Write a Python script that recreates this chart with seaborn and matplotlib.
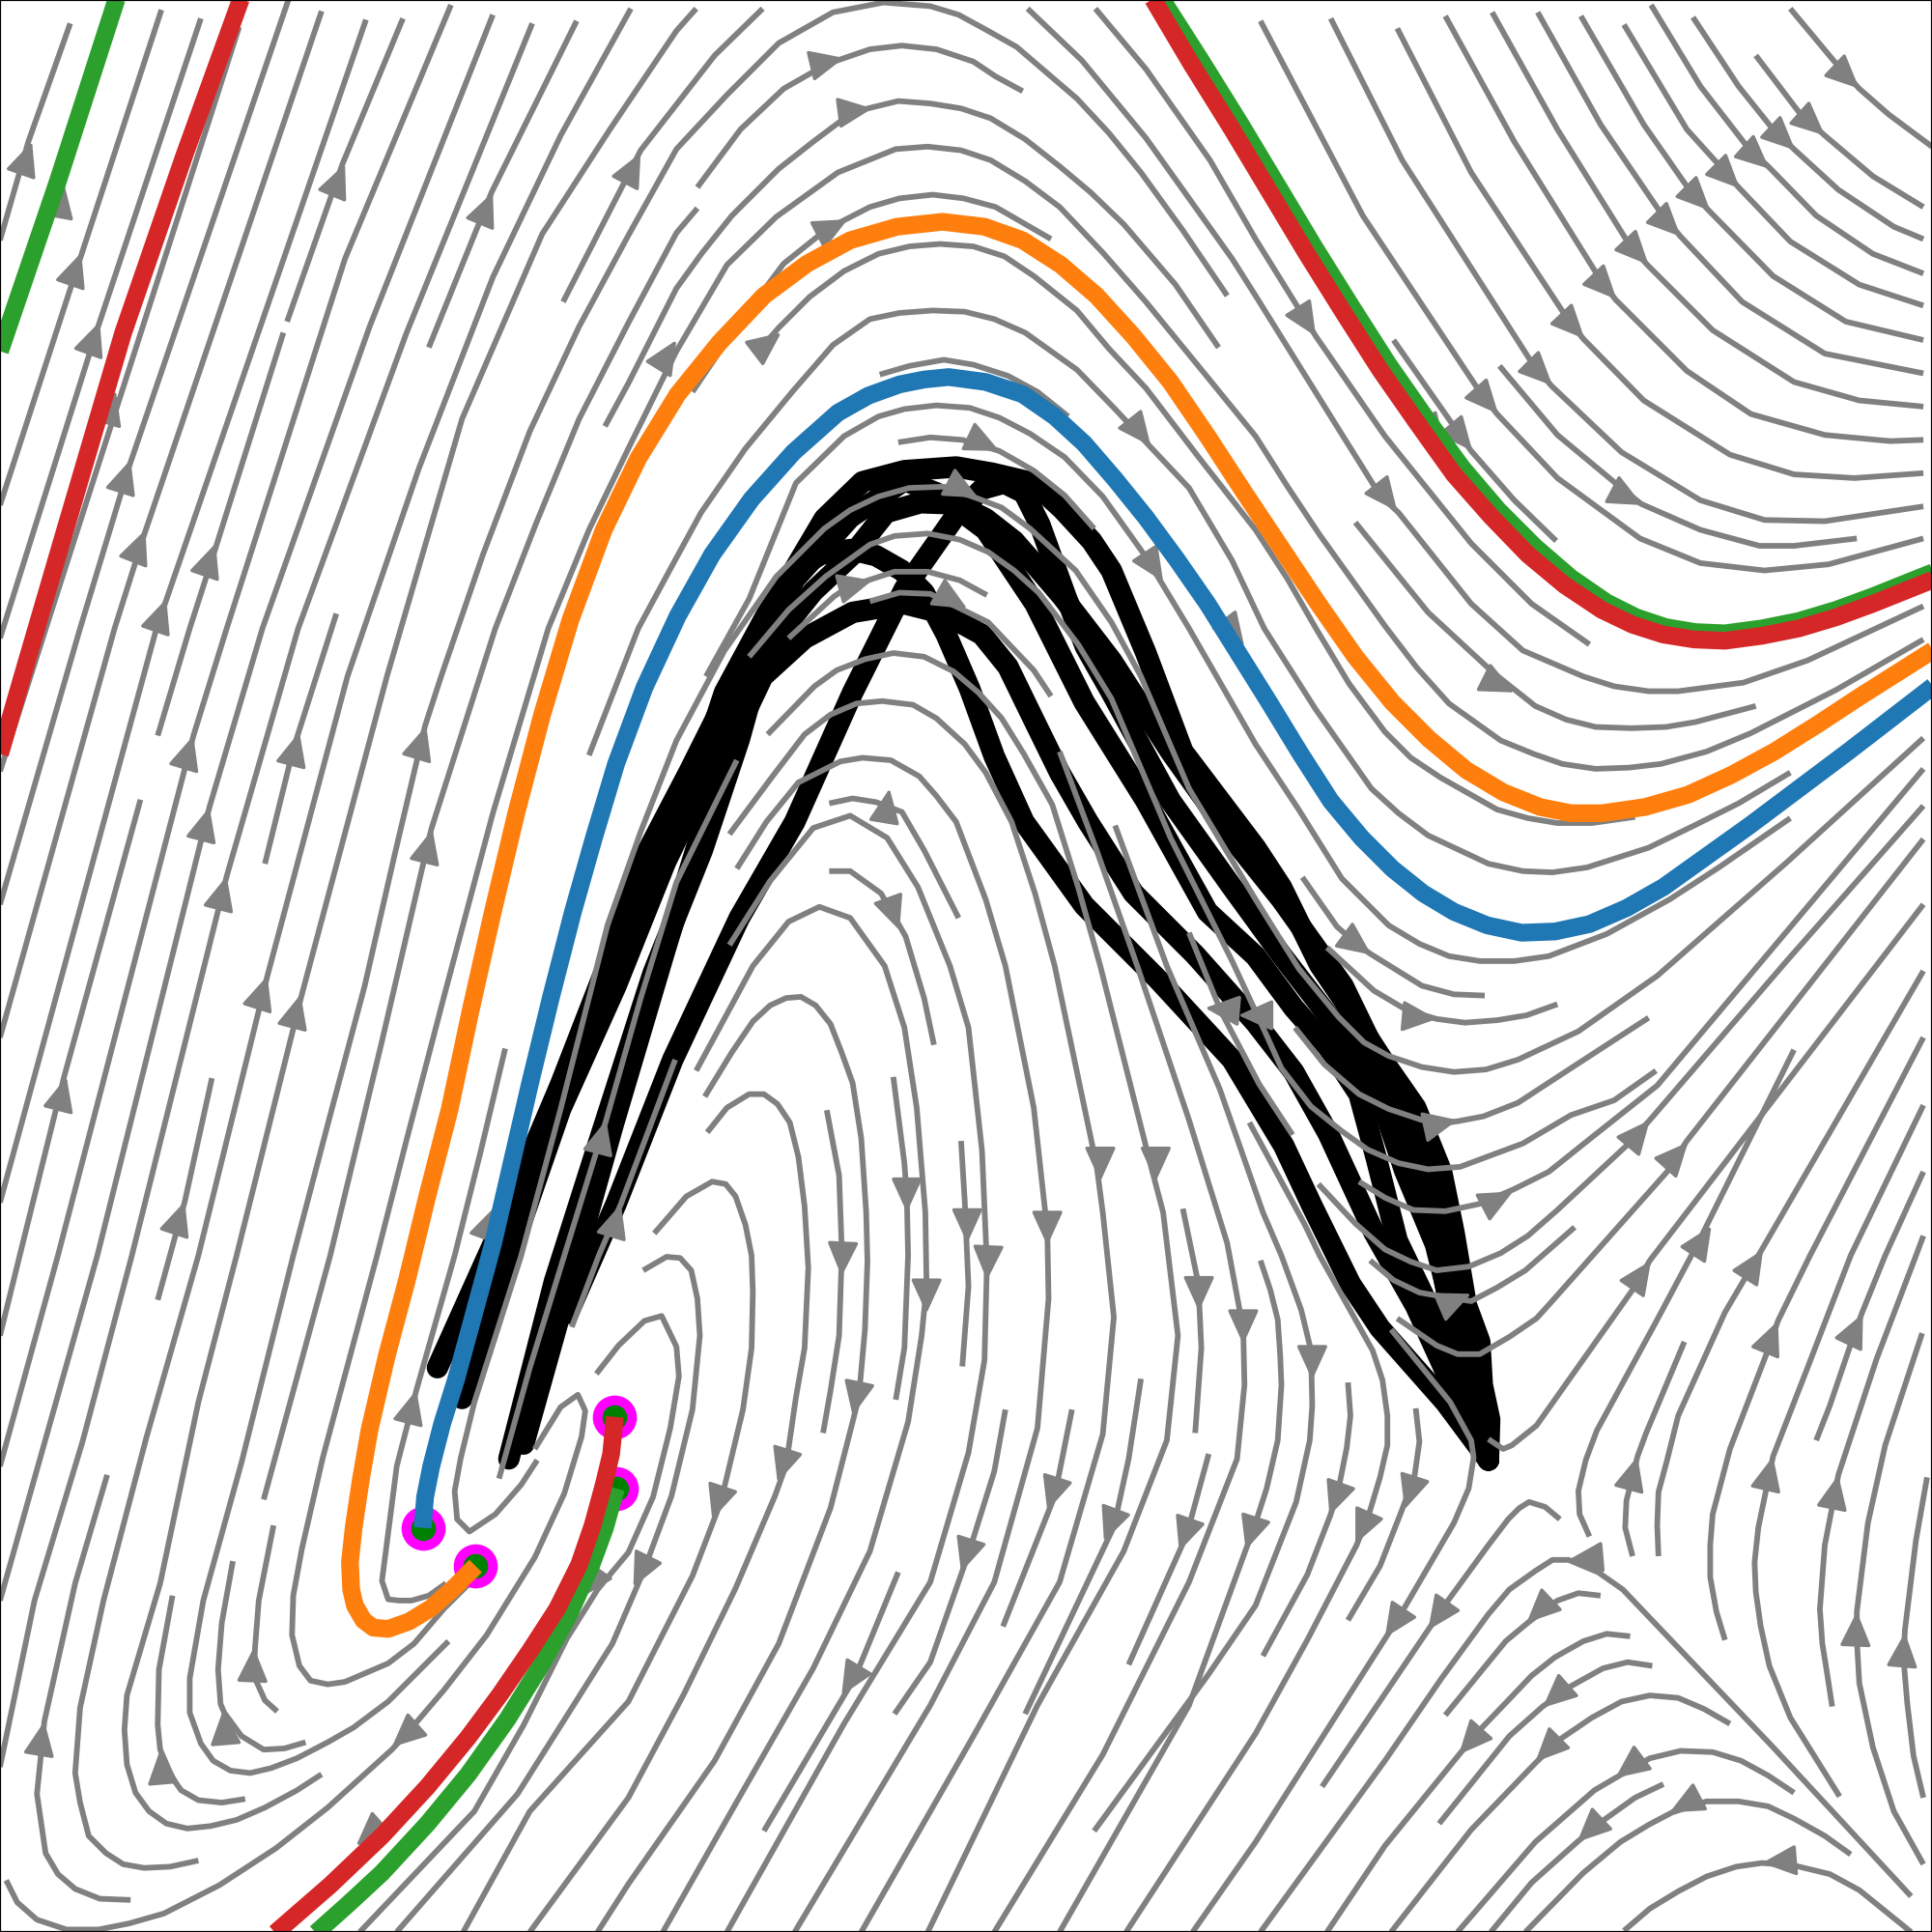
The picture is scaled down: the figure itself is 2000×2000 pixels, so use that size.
import pandas as pd
import seaborn as sns
import matplotlib.pyplot as plt

# everything, x to the right, y downwards, 0-1568

# streamlines, left side
streams_left = [
    [(57,19),(23,115),(0,195)],
    [(131,8),(65,210),(0,410)],
    [(163,15),(78,270),(0,518)],
    [(194,22),(95,330),(0,626)],
    [(234,0),(105,378),(65,510),(0,734)],
    [(261,9),(117,434),(93,510),(0,842)],
    [(297,16),(127,510),(0,976)],
    [(327,15),(278,133),(233,261)],
    [(230,270),(173,451),(154,510),(128,597)],
    [(114,649),(52,874),(16,1019),(0,1084)],
    [(366,4),(280,210),(184,510),(157,597),(47,1019),(0,1190)],
    [(400,12),(300,265),(213,510),(170,655),(79,1019),(0,1299)],
    [(432,19),(330,270),(242,510),(184,711),(107,1019),(67,1170),(28,1299),(0,1434)],
    [(468,17),(399,156),(348,282)],
    [(273,498),(238,608),(215,701)],
    [(512,7),(455,110),(400,225),(340,380),(282,549),(217,792),(161,1019),(119,1166),(84,1299),(65,1386),(61,1439),(65,1463),(72,1490),(86,1504),(100,1513),(117,1516),(138,1515),(161,1510)],
    [(565,7),(549,25),(495,105),(440,190),(375,340),(314,549),(245,807),(192,1019),(161,1138),(130,1285),(103,1376),(101,1404),(103,1432),(110,1455),(121,1470),(135,1480),(152,1484),(171,1482),(192,1477),(215,1467),(241,1453),(261,1440)],
    [(619,7),(580,45),(520,122),(457,245)],
    [(996,240),(960,187),(926,140),(900,108),(874,80),(825,38),(800,24),(778,12),(755,5),(717,2),(676,10),(632,35),(590,77),(549,121),(510,191),(470,265),(430,350),(392,450),(358,549),(345,589),(320,695),(296,800),(268,905),(238,1019),(196,1187),(165,1299),(154,1362),(154,1390),(163,1415),(173,1429),(187,1437),(203,1439),(220,1435),(241,1427),(266,1414),(287,1402),(315,1381),(364,1332)],
    [(566,169),(549,189),(510,262),(470,340),(435,425),(402,510),(350,673),(310,845),(268,1019),(214,1217)],
    [(989,282),(954,231),(912,182),(885,156),(860,135),(832,113),(804,96),(780,88),(755,84),(729,82),(692,91),(660,115),(632,137),(594,175),(570,205),(549,234),(510,311),(491,346)],
    [(566,152),(601,105),(636,72),(671,52),(706,40),(732,37),(760,40),(790,50),(808,62),(830,74)],
    [(853,194),(808,168),(782,161),(757,158),(730,161),(706,168),(671,186),(636,214),(597,266),(562,318)],
    [(618,282),(632,266),(657,241),(685,220),(713,206),(738,200),(763,198),(790,200),(815,208),(839,224),(874,252),(900,283),(930,315),(972,370),(1019,430),(1045,470),(1068,510),(1095,555),(1124,594),(1145,615),(1169,631),(1215,657),(1240,664),(1264,668),(1292,668),(1327,663)],
    [(385,1281),(360,1306),(336,1334),(315,1350),(280,1365),(266,1367),(252,1364),(243,1352),(237,1327),(238,1295),(245,1257),(262,1183),(306,1019),(330,925),(360,810),(400,660),(445,510),(478,430),(510,364),(549,285),(590,215),(630,176),(680,140),(727,121),(753,119),(780,122),(804,130),(832,147),(860,168),(895,205),(930,245),(975,300),(1019,354),(1045,395),(1071,434),(1124,508),(1150,542),(1176,571),(1218,601),(1245,612),(1268,620),(1295,624),(1322,623),(1348,620),(1385,610),(1421,595),(1490,560),(1561,519)],
    [(478,613),(518,510),(545,460),(569,416),(605,364),(643,318),(676,280),(706,259),(730,254),(757,252),(783,253),(807,259),(832,270),(874,300),(905,332),(933,362),(965,396),(1000,455),(1026,510),(1068,576),(1113,640),(1135,660),(1159,678),(1208,701),(1236,707),(1260,708),(1288,704),(1338,688),(1375,670),(1411,652),(1453,627)],
    [(410,851),(390,935),(369,1019),(338,1128),(322,1190),(313,1260),(310,1283),(315,1298),(324,1299),(334,1299),(348,1295),(362,1285)],
    [(172,875),(150,975),(128,1055)],
    [(140,1295),(129,1355),(128,1400),(130,1420),(140,1443),(147,1453),(161,1461),(180,1463),(199,1460)],
    [(189,1267),(180,1317),(177,1355),(179,1383),(182,1390),(196,1409),(214,1420),(231,1419),(248,1414)],
    [(222,1238),(210,1299),(207,1337),(206,1360),(215,1380),(225,1389)],
    [(87,1197),(61,1285),(36,1397),(30,1456),(37,1504),(47,1521),(61,1533),(81,1541),(106,1542)],
]

# streamlines, centre (spirals and arcs over the black runs)
streams_centre = [
    [(434,1176),(455,1142),(469,1132),(475,1145),(472,1166),(458,1212),(434,1264),(395,1327),(360,1372),(331,1406),(318,1420),(266,1467),(224,1500),(178,1530),(133,1553),(105,1561),(80,1566),(54,1566),(30,1558),(14,1544),(5,1526)],
    [(436,1185),(423,1205),(402,1229),(381,1243),(371,1233),(369,1210),(374,1183),(385,1138),(423,1019),(455,900),(493,751),(520,675),(549,601),(588,528),(630,468),(669,429),(690,414),(713,403),(738,396),(766,395),(792,404),(813,412),(836,429),(873,463),(902,505),(926,549),(965,640),(1019,730),(1054,786),(1086,825),(1107,846),(1127,857),(1154,866),(1180,870),(1206,868),(1232,860),(1281,837),(1345,792),(1450,700),(1561,599)],
    [(598,617),(549,716),(520,810),(492,909),(458,1019),(430,1110),(405,1200)],
    [(548,860),(504,977),(486,1019),(464,1077)],
    [(484,1115),(502,1092),(523,1072),(537,1068),(549,1093),(551,1117),(544,1159),(530,1215),(510,1260),(485,1290),(460,1330),(425,1400),(385,1470),(292,1568)],
    [(522,1031),(541,1020),(552,1021),(561,1031),(566,1054),(568,1084),(562,1144),(545,1214),(522,1276),(497,1334),(420,1456),(322,1568)],
    [(531,1001),(557,971),(578,959),(589,961),(597,971),(605,994),(610,1019),(611,1049),(610,1094),(603,1144),(585,1219),(562,1279),(510,1381),(430,1470),(376,1568)],
    [(574,919),(590,899),(608,888),(620,888),(631,896),(641,911),(648,939),(653,979),(656,1029),(653,1094),(646,1134),(638,1189),(629,1214),(597,1289),(555,1375),(510,1459),(430,1568)],
    [(572,890),(594,854),(611,829),(625,816),(638,810),(650,809),(662,816),(674,831),(683,854),(692,879),(699,924),(703,984),(704,1024),(702,1079),(697,1134),(692,1154),(674,1224),(632,1334),(580,1429),(510,1529),(485,1568)],
    [(565,869),(584,834),(611,784),(640,748),(665,736),(690,745),(718,784),(734,834),(744,899),(751,984),(752,1044),(748,1084),(737,1154),(706,1259),(660,1354),(597,1464),(538,1568)],
    [(671,901),(681,954),(683,1009),(683,1024),(681,1084),(674,1129),(668,1163)],
    [(725,874),(734,944),(736,972),(737,1019),(734,1094),(727,1136)],
    [(780,926),(783,975),(786,1044),(781,1109)],
    [(673,707),(690,707),(715,725),(735,760),(750,810),(758,848)],
    [(673,652),(692,648),(711,651),(732,659),(750,690),(778,745)],
    [(592,767),(625,715),(660,672),(690,662),(720,680),(745,720),(771,784),(786,834),(797,934),(801,1026),(799,1104),(786,1179),(755,1284),(685,1399),(590,1568)],
    [(598,705),(622,667),(648,635),(682,618),(700,615),(723,617),(746,630),(760,646),(776,667),(800,730),(816,784),(839,899),(850,999),(851,1054),(842,1159),(807,1284),(755,1384),(645,1568)],
    [(592,677),(627,630),(653,596),(674,580),(695,571),(716,569),(741,572),(760,583),(783,604),(800,627),(821,667),(840,725),(856,784),(890,946),(895,984),(904,1069),(895,1164),(860,1284),(790,1409),(699,1568)],
    [(623,596),(661,557),(679,544),(702,535),(725,530),(750,533),(774,545),(794,562),(813,583),(831,612),(854,653),(875,720),(893,784),(934,946),(944,984),(956,1084),(947,1169),(912,1259),(842,1384),(753,1568)],
    [(860,610),(890,690),(923,784),(965,909),(996,1009),(1009,1079),(1010,1124),(1004,1184),(965,1284),(895,1424),(807,1568)],
    [(1014,911),(1059,994),(1071,1019),(1114,1096),(1122,1120),(1126,1149),(1126,1173),(1120,1199),(1111,1229),(1101,1254),(1061,1331),(1019,1407),(914,1568)],
    [(1023,1023),(1031,1047),(1037,1071),(1039,1100),(1040,1124),(1037,1169),(1028,1208),(1019,1236),(965,1384),(860,1568)],
    [(960,981),(972,1039),(973,1051),(975,1094),(970,1163)],
    [(905,670),(947,784),(990,884),(1025,984),(1040,1019),(1056,1063),(1064,1096),(1065,1141),(1063,1169),(1052,1219),(1019,1303),(980,1360),(888,1486)],
    [(816,1144),(807,1194),(786,1261),(755,1349),(726,1391)],
    [(729,1276),(694,1361),(620,1486)],
    [(870,1144),(856,1214),(814,1320)],
    [(926,1119),(916,1184),(904,1239),(832,1391)],
    [(981,1180),(963,1246),(916,1351)],
    [(1094,1122),(1096,1149),(1093,1175),(1087,1205),(1080,1229),(1061,1278),(1025,1344)],
    [(1149,1143),(1152,1170),(1148,1198),(1138,1225),(1120,1271),(1094,1315)],
    [(1129,1079),(1177,1138),(1194,1169),(1196,1183),(1192,1208),(1180,1236),(1138,1308),(1126,1327),(1019,1495),(968,1568)],
    [(608,533),(640,495),(670,468),(706,442),(726,435),(753,433),(779,438),(802,448),(823,463),(843,481),(875,523),(902,567),(950,680),(1000,780),(1026,836),(1040,867),(1064,898),(1089,918),(1110,933),(1135,944),(1159,949),(1185,947),(1236,928),(1275,905),(1310,893),(1344,869)],
    [(640,518),(677,484),(689,476),(726,464),(753,464),(779,471),(801,483)],
    [(706,488),(730,481),(755,482),(802,505),(839,544),(853,565)],
    [(714,304),(738,297),(766,292),(790,296),(818,305),(842,318),(867,338)],
    [(729,359),(755,355),(781,357),(811,366),(839,382),(864,402),(888,429)],
    [(573,549),(608,486),(646,392),(685,354),(713,338),(734,332),(760,329),(787,331),(811,339),(836,352),(864,371),(895,403),(930,452),(965,510),(1019,604),(1054,657),(1089,713),(1127,751),(1152,766),(1176,776),(1201,780),(1229,780),(1257,776),(1304,758),(1355,730),(1395,704),(1453,664)],
    [(965,757),(991,821),(1022,880),(1049,921)],
]

# streamlines, top right
streams_top_right = [
    [(1453,7),(1488,49),(1509,72),(1533,93),(1568,119)],
    [(1425,45),(1460,91),(1481,110),(1520,143),(1561,168)],
    [(1374,14),(1411,70),(1439,105),(1457,122),(1492,154),(1537,184),(1561,194)],
    [(1340,4),(1380,70),(1418,119),(1436,136),(1474,175),(1520,206),(1561,222)],
    [(1318,20),(1369,105),(1397,136),(1411,152),(1453,196),(1509,231),(1561,248)],
    [(1283,13),(1334,101),(1371,154),(1387,171),(1439,224),(1498,261),(1561,276)],
    [(1248,10),(1299,101),(1348,173),(1364,192),(1414,245),(1481,287),(1561,303)],
    [(1211,10),(1264,105),(1322,198),(1337,215),(1390,268),(1456,310),(1509,325),(1561,330)],
    [(1173,13),(1229,115),(1297,224),(1311,243),(1369,301),(1421,336),(1481,353),(1534,358),(1561,357)],
    [(1134,23),(1194,140),(1271,257),(1285,275),(1334,325),(1404,369),(1456,385),(1505,388),(1561,384)],
    [(1080,15),(1138,130),(1243,294),(1259,313),(1316,367),(1380,406),(1432,422),(1481,423),(1561,411)],
    [(1023,17),(1106,175),(1201,318),(1215,336),(1264,388),(1331,437),(1380,457),(1432,463),(1484,458),(1561,437)],
    [(1131,276),(1180,346),(1194,366),(1229,406),(1263,439)],
    [(1217,297),(1264,353),(1317,397),(1332,409),(1380,430),(1428,443),(1456,443),(1507,437)],
    [(889,7),(930,56),(982,130),(1019,194),(1068,273),(1124,354),(1194,441),(1243,490),(1290,523)],
    [(834,7),(878,49),(930,112),(1000,210),(1019,240),(1085,346),(1120,402),(1135,416),(1194,490),(1236,528),(1285,549),(1310,557),(1338,561),(1362,561),(1415,554),(1467,536),(1561,492)],
    [(1100,424),(1159,497),(1212,546),(1246,573),(1271,584),(1295,590),(1324,591),(1352,590),(1376,586),(1425,573)],
]

# streamlines, right and bottom right
streams_bottom_right = [
    [(1057,712),(1085,752),(1101,766),(1112,774),(1154,800),(1180,807),(1205,808)],
    [(1077,769),(1115,804),(1142,820),(1166,827),(1189,830),(1215,828),(1239,824),(1264,815)],
    [(1051,834),(1075,864),(1103,888),(1127,900),(1154,909),(1169,912),(1183,910),(1204,906),(1232,895),(1281,863),(1338,826)],
    [(1103,959),(1124,972),(1147,982),(1173,983),(1201,977),(1229,965),(1257,951),(1292,923),(1345,881),(1561,624)],
    [(1070,961),(1100,993),(1124,1014),(1145,1024),(1166,1031),(1192,1028),(1218,1017),(1240,1003),(1264,982),(1322,928),(1339,909),(1450,780),(1561,654)],
    [(1112,1023),(1131,1039),(1152,1049),(1169,1052),(1194,1056),(1215,1045),(1238,1031),(1278,996)],
    [(1561,681),(1369,926),(1353,951),(1257,1059),(1247,1070),(1225,1085),(1201,1099),(1183,1099),(1166,1092),(1134,1070)],
    [(1561,734),(1339,1023),(1327,1044),(1247,1157),(1227,1173),(1220,1176),(1208,1168)],
    [(1456,852),(1378,1009),(1345,1071),(1296,1161),(1287,1185),(1281,1210),(1282,1229),(1290,1247)],
    [(1561,788),(1430,1014),(1400,1065),(1362,1149),(1353,1185),(1346,1211),(1345,1238),(1346,1263)],
    [(1367,1089),(1336,1163),(1329,1182),(1320,1218),(1319,1240),(1325,1263)],
    [(1561,842),(1469,1019),(1443,1072),(1434,1098),(1404,1176),(1390,1229),(1388,1254),(1388,1280),(1393,1308),(1400,1331)],
    [(1561,897),(1502,1019),(1467,1110),(1439,1182),(1427,1240),(1424,1268),(1425,1292),(1429,1320),(1436,1352),(1453,1394),(1493,1458)],
    [(1561,951),(1530,1019),(1511,1066),(1502,1091),(1485,1141),(1474,1169)],
    [(1561,1003),(1555,1019),(1523,1103),(1492,1197),(1481,1254),(1477,1306),(1479,1334),(1483,1359),(1487,1385)],
    [(1560,1082),(1530,1173),(1516,1236),(1507,1308),(1507,1331),(1509,1366),(1520,1418),(1537,1470),(1561,1513)],
    [(1564,1199),(1555,1250),(1546,1323),(1545,1348),(1548,1383),(1553,1425),(1561,1459)],
    [(1266,1233),(1254,1223),(1241,1219),(1233,1224),(1224,1233),(1208,1254),(1173,1302),(1161,1320),(1073,1450)],
    [(1551,1539),(1439,1418),(1317,1290),(1297,1276),(1273,1266),(1260,1266),(1246,1275),(1225,1290),(1208,1310),(1170,1362),(1124,1429),(1023,1568)],
    [(1299,1295),(1281,1293),(1264,1299),(1240,1317),(1222,1332),(1173,1392)],
    [(1323,1328),(1304,1326),(1285,1332),(1262,1345),(1243,1360),(1224,1380),(1201,1404),(1185,1423),(1124,1498),(1077,1568)],
    [(1341,1352),(1321,1349),(1301,1354),(1274,1369),(1252,1385),(1225,1409),(1168,1480)],
    [(1404,1399),(1383,1387),(1362,1378),(1339,1376),(1316,1381),(1292,1394),(1267,1411),(1247,1430),(1194,1485),(1129,1568)],
    [(1456,1455),(1435,1441),(1413,1429),(1390,1422),(1364,1421),(1339,1427),(1311,1443),(1294,1453),(1246,1495),(1183,1568)],
    [(1350,1448),(1327,1459),(1299,1479),(1280,1495),(1243,1528),(1210,1568)],
    [(1502,1505),(1481,1490),(1456,1476),(1435,1466),(1411,1462),(1385,1462),(1357,1471),(1338,1481),(1315,1495),(1285,1520),(1238,1568)],
    [(1551,1568),(1509,1534),(1485,1521),(1456,1514),(1430,1512),(1409,1515),(1385,1523),(1362,1535),(1339,1549),(1318,1567)],
]

# arrow heads as tip, middle of base
arrows = [
    (26,115,18,138),(52,149,48,171),(66,205,58,228),(81,261,73,283),(94,317,87,341),(106,373,99,395),
    (118,430,109,453),(135,486,127,509),(175,441,167,464),(280,133,270,157),(400,156,390,180),(520,124,507,149),
    (549,276,536,297),(157,597,150,620),(170,655,164,678),(184,711,178,734),(243,594,237,617),(346,589,339,612),
    (351,673,345,697),(217,792,210,814),(244,807,238,830),(54,874,48,897),(150,975,143,996),(402,979,395,998),
    (492,909,486,932),(504,977,497,1000),(338,1128,332,1151),(36,1397,32,1421),(130,1420,132,1443),(181,1388,183,1412),
    (206,1337,205,1360),(471,1297,483,1280),(514,1288,524,1268),(318,1418,336,1402),(289,1498,306,1483),
    (685,47,664,52),(708,88,685,91),(688,178,665,190),(634,270,617,283),(934,362,919,343),(944,472,931,452),
    (1010,525,995,505),(1068,273,1056,254),(811,366,790,356),(794,404,773,393),(708,471,685,477),(785,494,764,482),
    (1509,72,1491,55),(1481,110,1462,93),(1457,122,1440,106),(1436,137,1418,121),(1412,153,1395,136),(1388,171,1371,154),
    (1364,192,1347,175),(1338,215,1322,198),(1312,243,1296,226),(1286,275,1270,258),(1260,313,1243,296),(1216,336,1201,319),
    (1195,366,1180,348),(1173,363,1159,345),(1333,410,1312,399),(1134,415,1119,396),
    (1229,562,1207,551),(1113,775,1094,761),(1166,827,1143,825),(1183,909,1160,914),(1228,967,1207,978),(1339,909,1324,927),
    (1370,927,1354,945),(1389,995,1376,1015),(1340,1023,1327,1042),(1431,1014,1419,1033),(1194,1050,1173,1059),
    (1159,1323,1173,1303),(1124,1329,1138,1308),(1065,1120,1065,1098),(1079,1230,1087,1208),(1100,1253,1110,1231),(1140,1225,1147,1203),
    (1011,1258,1018,1236),(1273,1266,1296,1264),(1239,1317,1257,1300),(1184,1424,1200,1406),(1252,1386,1270,1370),
    (1246,1430,1263,1413),(1311,1443,1331,1428),(1280,1495,1297,1479),(1355,1471,1376,1460),(1430,1512,1454,1510),
    (1329,1182,1322,1208),(1439,1182,1433,1208),(1492,1197,1487,1222),(1443,1072,1434,1094),(1512,1066,1501,1089),
    (1507,1308,1506,1332),(1546,1325,1544,1348),
    (683,1036,684,1013),(736,984,736,960),(752,1066,752,1044),(785,1009,785,986),(801,1039,802,1016),(850,1011,850,988),
    (893,959,893,936),(938,959,938,937),(973,1064,973,1040),(1009,1091,1009,1069),(692,1149,697,1125),(631,1203,638,1181),
    (578,1233,585,1212),(850,1226,857,1204),(780,1276,787,1254),(683,1376,695,1356),(896,1251,904,1230),(957,1259,964,1239),
    (978,818,1001,820),(1005,824,1028,824),(722,640,718,664),(730,755,722,733),
]

# black runs
black_runs = [
    [(461,1066),(500,977),(546,860),(600,745),(645,667),(692,562),(734,478),(776,418),(797,397),(815,392),(831,400),(844,426),(865,484),(881,525),(902,562),(950,650),(1000,720),(1040,775),(1090,840),(1120,890),(1140,950),(1165,1010),(1185,1090),(1208,1185)],
    [(355,1110),(400,1010),(455,880),(490,790),(525,692),(560,625),(600,545),(640,470),(669,421),(700,391),(734,382),(776,379),(805,384),(839,392),(862,413),(886,439),(902,463),(930,530),(960,610),(1019,688),(1040,720),(1071,783),(1092,814),(1124,863),(1149,899),(1170,951),(1180,1000),(1190,1059),(1201,1089),(1203,1124),(1209,1152),(1208,1185)],
    [(375,1135),(410,1030),(455,900),(500,800),(540,700),(588,600),(620,530),(660,480),(692,450),(719,416),(747,408),(776,409),(800,421),(823,439),(844,463),(862,484),(902,536),(950,610),(1000,680),(1040,730),(1090,800),(1124,870),(1150,930),(1165,1000),(1180,1080),(1208,1185)],
    [(378,1065),(440,925),(490,800),(549,680),(588,562),(622,499),(645,463),(666,450),(690,446),(711,451),(732,463),(750,481),(768,515),(787,559),(807,614),(831,667),(880,735),(940,795),(1000,860),(1042,930),(1065,979),(1096,1042),(1120,1078),(1173,1138),(1208,1185)],
    [(425,1172),(462,1040),(497,915),(540,770),(588,614),(619,549),(653,518),(692,497),(734,490),(766,498),(797,515),(818,541),(836,578),(860,627),(883,667),(920,725),(970,775),(1019,830),(1050,870),(1078,920),(1115,1000),(1149,1060),(1190,1150),(1208,1185)],
    [(413,1184),(450,1040),(485,930),(530,790),(570,690),(600,600),(625,510),(645,470),(690,420),(734,390),(760,400),(800,430),(840,490),(880,570),(930,650),(980,740),(1019,776),(1050,818),(1078,850),(1103,888),(1117,940),(1134,1007),(1159,1059),(1208,1185)],
]

# coloured trajectories
green_top = [(95,-2),(47,147),(0,285)]
red_top = [(196,-2),(150,125),(100,270),(50,440),(17,553),(0,612)]
green_bottom = [(500,1208),(491,1240),(480,1270),(462,1310),(440,1350),(412,1395),(380,1440),(347,1480),(310,1520),(283,1545),(255,1570)]
red_bottom = [(499,1150),(496,1180),(490,1205),(481,1238),(470,1270),(452,1306),(430,1340),(406,1375),(380,1410),(347,1450),(310,1490),(268,1530),(222,1570)]
green_right = [(942,-2),(974,48),(1007,101),(1037,151),(1067,201),(1097,249),(1127,296),(1157,339),(1187,380),(1216,414),(1246,444),(1275,469),(1304,489),(1328,501),(1352,509),(1376,513),(1400,514),(1430,510),(1460,504),(1490,495),(1520,484),(1570,464)]
red_right = [(935,-2),(967,52),(1000,105),(1030,155),(1060,205),(1090,253),(1120,300),(1150,343),(1180,385),(1210,419),(1240,450),(1270,475),(1300,495),(1325,507),(1350,515),(1375,519),(1400,520),(1430,516),(1460,510),(1490,501),(1520,490),(1570,470)]
orange_run = [(386,1271),(368,1289),(350,1305),(332,1316),(315,1322),(303,1321),(295,1315),(288,1303),(285,1290),(284,1268),(287,1240),(293,1200),(300,1160),(314,1100),(330,1040),(347,970),(365,900),(382,820),(400,740),(419,660),(440,580),(463,503),(490,430),(518,372),(550,320),(584,278),(620,240),(655,214),(690,195),(728,184),(765,180),(799,184),(830,195),(861,215),(890,240),(920,273),(950,310),(980,354),(1010,400),(1040,445),(1070,490),(1100,533),(1130,570),(1160,600),(1190,625),(1220,643),(1250,655),(1275,660),(1300,660),(1335,655),(1370,645),(1405,629),(1440,610),(1475,588),(1510,565),(1570,527)]
blue_run = [(343,1240),(345,1215),(350,1190),(359,1155),(370,1120),(385,1065),(400,1010),(415,945),(430,880),(447,810),(465,740),(482,680),(500,620),(523,558),(550,500),(578,450),(610,405),(644,367),(680,335),(705,321),(730,312),(750,308),(770,306),(800,310),(830,320),(856,338),(880,360),(905,389),(930,420),(955,454),(980,490),(1005,530),(1030,570),(1055,611),(1080,650),(1105,680),(1130,705),(1155,725),(1180,740),(1207,751),(1235,757),(1262,756),(1290,750),(1320,737),(1350,720),(1385,695),(1420,670),(1460,640),(1500,610),(1570,556)]

# start points of the coloured runs
start_x = [343,386,499,500]
start_y = [1240,1271,1150,1208]


def long_table(lines):
    rows = []
    for i, line in enumerate(lines):
        for x, y in line:
            rows.append((i, x, y))
    return pd.DataFrame(rows, columns=['line', 'x', 'y'])


sns.set_style('white')
fig, ax = plt.subplots(figsize=(10, 10), dpi=200)
fig.subplots_adjust(0, 0, 1, 1)

sns.lineplot(data=long_table(black_runs), x='x', y='y', units='line', estimator=None, sort=False,
             color='black', lw=8, ax=ax, zorder=1, solid_capstyle='round', solid_joinstyle='round')

grey_lines = streams_left + streams_centre + streams_top_right + streams_bottom_right
sns.lineplot(data=long_table(grey_lines), x='x', y='y', units='line', estimator=None, sort=False,
             color='gray', lw=2.1, ax=ax, zorder=2, solid_capstyle='butt', solid_joinstyle='round')

for tip_x, tip_y, base_x, base_y in arrows:
    ax.annotate('', xy=(tip_x, tip_y), xytext=(base_x, base_y), zorder=3,
                arrowprops=dict(arrowstyle='-|>,head_length=11,head_width=5', mutation_scale=1,
                                color='gray', lw=1.2, shrinkA=0, shrinkB=0, joinstyle='round'))

sns.scatterplot(x=start_x, y=start_y, s=270, color='magenta', linewidth=0, ax=ax, zorder=4)
sns.scatterplot(x=start_x, y=start_y, s=85, color='green', linewidth=0, ax=ax, zorder=5)

runs = [(green_top, 'tab:green'), (green_bottom, 'tab:green'), (green_right, 'tab:green'),
        (red_top, 'tab:red'), (red_bottom, 'tab:red'), (red_right, 'tab:red'),
        (orange_run, 'tab:orange'), (blue_run, 'tab:blue')]
for run, colour in runs:
    xs, ys = zip(*run)
    sns.lineplot(x=list(xs), y=list(ys), sort=False, estimator=None, color=colour, lw=6.6, ax=ax, zorder=6,
                 solid_capstyle='butt', solid_joinstyle='round')

ax.set_xlim(0, 1568)
ax.set_ylim(1568, 0)
ax.set(xlabel='', ylabel='', xticks=[], yticks=[])
for spine in ax.spines.values():
    spine.set_visible(True)
    spine.set_color('black')
    spine.set_linewidth(0.8)
    spine.set_zorder(10)

fig.savefig('out.png', dpi=200)
